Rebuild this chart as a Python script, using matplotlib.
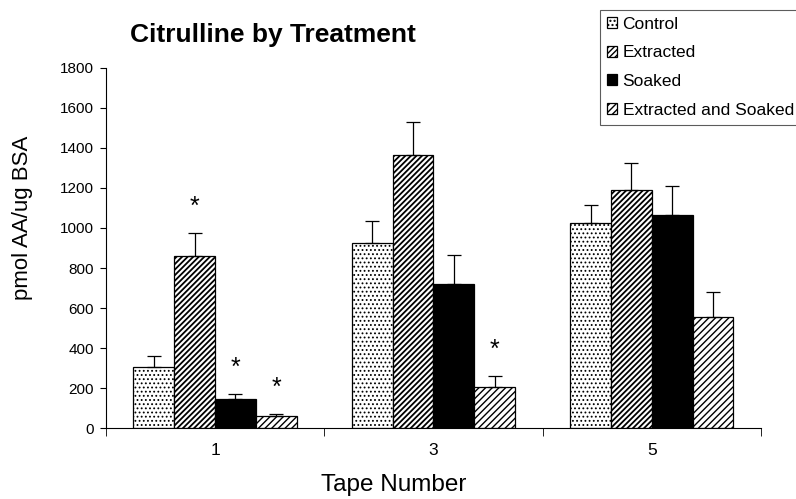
import numpy as np
import matplotlib
matplotlib.use("Agg")
import matplotlib.pyplot as plt

plt.rcParams["font.family"] = ["Liberation Sans", "DejaVu Sans"]

tapes = ["1", "3", "5"]
treatments = ["Control", "Extracted", "Soaked", "Extracted and Soaked"]

control = [306, 923, 1023]
extracted = [860, 1365, 1190]
soaked = [148, 718, 1063]
ext_soaked = [60, 207, 553]

control_err = [55, 114, 92]
extracted_err = [115, 167, 133]
soaked_err = [25, 148, 148]
ext_soaked_err = [12, 53, 129]

# (tape index, treatment index) marked as significant
stars = [(0, 1), (0, 2), (0, 3), (1, 3)]

values = [control, extracted, soaked, ext_soaked]
errors = [control_err, extracted_err, soaked_err, ext_soaked_err]
hatches = ["....", "//////", None, "/////"]
hatch_lw = [0.8, 1.3, 0.8, 1.0]
faces = ["white", "white", "black", "white"]

fig = plt.figure(figsize=(7.96, 4.99), dpi=100)
ax = fig.add_axes([0.133, 0.142, 0.823, 0.722])

x = np.arange(len(tapes))
w = 0.187
offsets = (np.arange(4) - 1.5) * w

for i in range(4):
    with plt.rc_context({"hatch.linewidth": hatch_lw[i]}):
        ax.bar(x + offsets[i], values[i], w,
               color=faces[i], edgecolor="black", hatch=hatches[i],
               lw=0.9, label=treatments[i], zorder=2)
    ax.errorbar(x + offsets[i], values[i],
                yerr=[np.zeros(3), errors[i]],
                fmt="none", ecolor="black", elinewidth=0.9,
                capsize=5, capthick=0.9, zorder=3)

for t, k in stars:
    top = values[k][t] + errors[k][t]
    ax.text(x[t] + offsets[k], top + 130, "*", ha="center", va="center",
            fontsize=18)

ax.set_xlim(-0.5, 2.5)
ax.set_ylim(0, 1800)
ax.set_yticks(range(0, 1801, 200))
ax.set_xticks(x)
ax.set_xticklabels(tapes, fontsize=12.5)
ax.set_xticks([-0.5, 0.5, 1.5, 2.5], minor=True)
ax.tick_params(axis="x", which="major", length=0, pad=11)
ax.tick_params(axis="x", which="minor", length=6, direction="out")
ax.tick_params(axis="y", labelsize=11, length=4.5, direction="out", pad=4)

for side in ["top", "right"]:
    ax.spines[side].set_visible(False)

fig.text(23 / 796, 1 - 218 / 499, "pmol AA/ug BSA", fontsize=16,
         rotation=90, ha="center", va="center")
fig.text(394 / 796, 1 - 485 / 499, "Tape Number", fontsize=17.5,
         ha="center", va="center")
fig.text(130 / 796, 1 - 35 / 499, "Citrulline by Treatment", fontsize=19,
         fontweight="bold", ha="left", va="center")

leg = ax.legend(loc="upper left", bbox_to_anchor=(600 / 796, 1 - 10 / 499),
                bbox_transform=fig.transFigure, fontsize=12.5,
                frameon=True, fancybox=False, edgecolor="#333333",
                handlelength=0.6, handleheight=0.6, handletextpad=0.3,
                labelspacing=0.78, borderpad=0.4, borderaxespad=0)
leg.get_frame().set_linewidth(0.8)

fig.savefig("out.png", dpi=100)
